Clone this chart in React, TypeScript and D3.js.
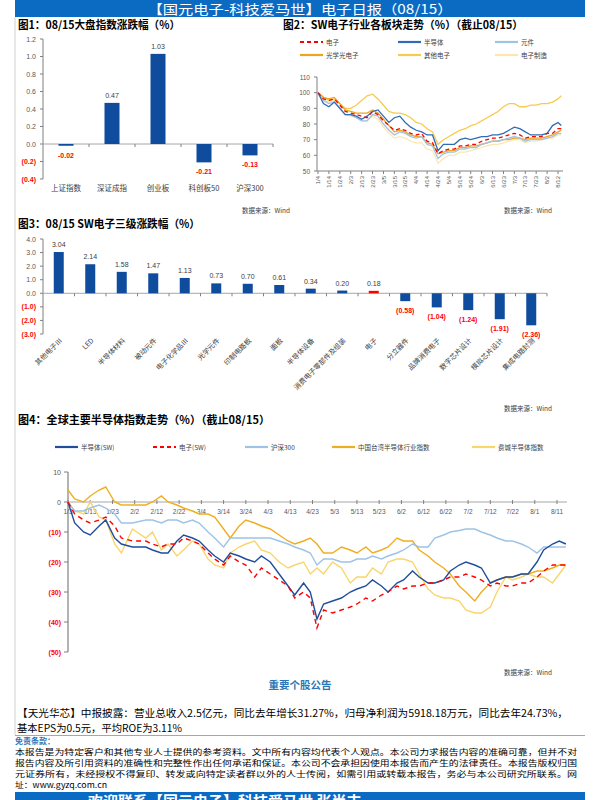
import React from "react";
import * as d3 from "d3";

const SANS = "'Liberation Sans', Arial, 'Noto Sans CJK SC', sans-serif";
const CJK = "'Noto Sans CJK SC', 'Liberation Sans', sans-serif";
const BAR_BLUE = "#0F4C9E";
const RED = "#FF0000";
const TXT = "#595959";
const AXIS = "#808080";

// ---------- Chart 1 ----------
const c1Categories = ["上证指数", "深证成指", "创业板", "科创板50", "沪深300"];
const c1Values = [-0.02, 0.47, 1.03, -0.21, -0.13];
const c1Ticks = [-0.4, -0.2, 0, 0.2, 0.4, 0.6, 0.8, 1.0, 1.2];

// ---------- Chart 2 ----------
const c2TickLabels = ["1/4", "1/14", "1/24", "2/3", "2/13", "2/23", "3/5", "3/15", "3/25", "4/4", "4/14", "4/24", "5/4", "5/14", "5/24", "6/3", "6/13", "6/23", "7/3", "7/13", "7/23", "8/2", "8/12"];
const c2YTicks = [50, 60, 70, 80, 90, 100, 110];
const c2Dates = ["1/4", "1/9", "1/14", "1/19", "1/24", "1/29", "2/3", "2/8", "2/13", "2/18", "2/23", "2/28", "3/5", "3/10", "3/15", "3/20", "3/25", "3/30", "4/4", "4/9", "4/14", "4/19", "4/24", "4/29", "5/4", "5/9", "5/14", "5/19", "5/24", "5/29", "6/3", "6/8", "6/13", "6/18", "6/23", "6/28", "7/3", "7/8", "7/13", "7/18", "7/23", "7/28", "8/2", "8/7", "8/12", "8/15"];
const c2Electronics = [100, 96, 95, 96, 92, 88, 87, 86, 85, 84, 88, 86, 82, 79, 76, 77, 76, 74, 73, 74, 69, 68, 61, 63, 64, 64, 66, 66, 67, 67, 69, 70, 71, 71, 72, 73, 74, 73, 71, 72, 72, 72, 74, 74, 77, 77];
const c2Semi = [100, 93, 91, 94, 90, 86, 86, 85, 83, 85, 88, 89, 85, 81, 84, 85, 81, 78, 76, 75, 73, 73, 63, 67, 67, 67, 70, 71, 70, 71, 72, 72, 73, 73, 74, 76, 78, 77, 75, 73, 73, 73, 74, 79, 81, 79];
const c2Component = [100, 95, 93, 94, 90, 86, 86, 84, 82, 82, 86, 85, 80, 76, 73, 75, 74, 72, 71, 72, 67, 66, 58, 61, 62, 62, 64, 64, 65, 65, 67, 68, 69, 69, 70, 71, 72, 71, 69, 70, 70, 70, 71, 72, 74, 74];
const c2Optical = [100, 97, 96, 97, 93, 89, 88, 87, 87, 87, 89, 87, 83, 79, 75, 76, 75, 73, 72, 72, 68, 67, 61, 62, 63, 63, 65, 65, 66, 66, 67, 68, 69, 69, 70, 70, 71, 71, 70, 71, 71, 71, 72, 73, 75, 76];
const c2Other = [100, 97, 95, 96, 93, 90, 90, 92, 95, 98, 99, 96, 92, 88, 87, 87, 86, 84, 81, 80, 77, 75, 67, 70, 72, 74, 76, 77, 79, 80, 82, 84, 86, 88, 91, 93, 93, 91, 91, 92, 92, 93, 93, 94, 96, 98];
const c2Manufacture = [100, 95, 94, 95, 90, 86, 85, 84, 82, 82, 85, 83, 78, 74, 71, 72, 71, 69, 68, 68, 64, 63, 55, 58, 60, 60, 62, 62, 63, 64, 65, 66, 67, 67, 68, 69, 70, 70, 68, 69, 69, 70, 71, 71, 73, 73];

// ---------- Chart 3 ----------
const c3Categories = ["其他电子Ⅲ", "LED", "半导体材料", "被动元件", "电子化学品Ⅲ", "光学元件", "印制电路板", "面板", "半导体设备", "消费电子零部件及组装", "电子", "分立器件", "品牌消费电子", "数字芯片设计", "模拟芯片设计", "集成电路封测"];
const c3Values = [3.04, 2.14, 1.58, 1.47, 1.13, 0.73, 0.70, 0.61, 0.34, 0.20, 0.18, -0.58, -1.04, -1.24, -1.91, -2.36];
const c3Ticks = [-3, -2, -1, 0, 1, 2, 3, 4];
const c3Highlight = "电子";

// ---------- Chart 4 ----------
const c4TickLabels = ["1/3", "1/13", "1/23", "2/2", "2/12", "2/22", "3/4", "3/14", "3/24", "4/3", "4/13", "4/23", "5/3", "5/13", "5/23", "6/2", "6/12", "6/22", "7/2", "7/12", "7/22", "8/1", "8/11"];
const c4YTicks = [-50, -40, -30, -20, -10, 0, 10];
const c4Dates = ["1/3", "1/6", "1/10", "1/13", "1/17", "1/20", "1/24", "1/27", "2/1", "2/7", "2/10", "2/14", "2/17", "2/21", "2/24", "2/28", "3/3", "3/7", "3/10", "3/14", "3/17", "3/21", "3/24", "3/28", "3/31", "4/4", "4/8", "4/12", "4/15", "4/19", "4/22", "4/25", "4/28", "5/2", "5/6", "5/10", "5/13", "5/17", "5/20", "5/24", "5/27", "5/31", "6/3", "6/7", "6/10", "6/14", "6/17", "6/21", "6/24", "6/28", "7/1", "7/5", "7/8", "7/12", "7/15", "7/19", "7/22", "7/26", "7/29", "8/2", "8/5", "8/9", "8/12", "8/15"];
const c4Semi = [0, -7, -10, -11, -8, -6, -12, -14, -15, -15, -16, -17, -17, -13, -11, -12, -13, -16, -18, -20, -17, -18, -19, -20, -18, -20, -24, -28, -31, -27, -30, -39, -34, -33, -32, -30, -29, -28, -26, -28, -30, -27, -26, -23, -25, -27, -27, -26, -23, -21, -20, -21, -22, -27, -26, -25, -25, -24, -24, -20, -16, -14, -13, -14];
const c4Electronics = [0, -4, -6, -7, -6, -5, -8, -12, -13, -13, -14, -15, -14, -14, -12, -13, -14, -17, -19, -21, -18, -20, -21, -25, -22, -24, -26, -28, -32, -30, -32, -42, -36, -37, -36, -35, -34, -32, -33, -31, -30, -28, -29, -28, -28, -27, -27, -26, -25, -25, -24, -25, -26, -28, -27, -28, -28, -27, -27, -25, -23, -21, -21, -21];
const c4HS300 = [0, -3, -3, -2, -1, -2, -4, -7, -7, -6, -6, -7, -6, -6, -7, -6, -7, -10, -12, -15, -12, -12, -12, -12, -12, -12, -13, -14, -15, -16, -17, -21, -19, -19, -20, -20, -19, -19, -18, -19, -18, -17, -16, -14, -15, -15, -12, -11, -10, -9.5, -9, -9, -10, -11, -12, -13, -13, -14, -15, -17, -15, -15, -15, -15];
const c4Taiwan = [4, 1, 0, 2, 4, 5, 0, -1, -1, -1, 0, 2, 0, -1, -2, -3, -4, -4, -5, -9, -12, -8, -6, -7, -8, -9, -11, -13, -14, -13, -12, -14, -17, -17, -15, -16, -17, -15, -17, -16, -15, -12, -13, -13, -16, -18, -20, -22, -24, -28, -30, -33, -30, -27, -26, -25, -25, -24, -24, -23, -23, -22, -21, -21];
const c4Sox = [0, -3, -4, 0, -5, -6, -14, -17, -9, -12, -10, -16, -14, -18, -16, -13, -14, -19, -21, -22, -17, -15, -14, -13, -16, -17, -20, -22, -21, -20, -24, -22, -24, -20, -22, -27, -25, -25, -22, -24, -20, -19, -19, -20, -24, -29, -31, -32, -32, -33, -36, -37, -37, -35, -30, -25, -26, -25, -24, -25, -25, -27, -24, -21];

const pd = (s: string) => {
  const [m, d] = s.split("/").map(Number);
  return new Date(2022, m - 1, d);
};

function Chart1() {
  const x = d3.scaleBand().domain(c1Categories).range([43, 273]);
  const y = d3.scaleLinear().domain([-0.4, 1.2]).range([179, 39]);
  const bw = 15;
  return (
    <g>
      <text x={18} y={29} fontSize={11} fontWeight="bold" fontFamily={CJK} textLength={162} lengthAdjust="spacingAndGlyphs">图1：08/15大盘指数涨跌幅（%）</text>
      <line x1={43} x2={43} y1={y(1.2)} y2={y(-0.4)} stroke={AXIS} />
      {c1Ticks.map((t) => (
        <g key={t}>
          <line x1={40} x2={43} y1={y(t)} y2={y(t)} stroke={AXIS} />
          <text x={36} y={y(t) + 2.5} fontSize={7} textAnchor="end" fontFamily={SANS} fill={t < 0 ? RED : TXT} fontWeight={t < 0 ? "bold" : "normal"}>
            {t < 0 ? `(${(-t).toFixed(1)})` : t.toFixed(1)}
          </text>
        </g>
      ))}
      <line x1={43} x2={273} y1={y(0)} y2={y(0)} stroke="#A6A6A6" />
      {c1Categories.map((c, i) => (
        <line key={"tk" + i} x1={x(c)! + x.bandwidth()} x2={x(c)! + x.bandwidth()} y1={y(0)} y2={y(0) + 3} stroke={AXIS} />
      ))}
      {c1Categories.map((c, i) => {
        const v = c1Values[i];
        const cx = x(c)! + x.bandwidth() / 2;
        return (
          <g key={c}>
            <rect x={cx - bw / 2} width={bw} y={y(Math.max(v, 0))} height={Math.abs(y(v) - y(0))} fill={BAR_BLUE} />
            <text x={cx} y={v >= 0 ? y(v) - 5 : y(v) + 12} fontSize={7} textAnchor="middle" fontFamily={SANS} fill={v >= 0 ? "#404040" : RED} fontWeight={v < 0 ? "bold" : "normal"}>
              {v.toFixed(2)}
            </text>
            <text x={cx} y={191} fontSize={7.5} textAnchor="middle" fontFamily={CJK} fill="#404040">{c}</text>
          </g>
        );
      })}
      <text x={290} y={213} fontSize={6.5} textAnchor="end" fontFamily={CJK} fill="#404040">数据来源：Wind</text>
    </g>
  );
}

function LegendItem({ x, y, color, dashed, label, w = 23 }: any) {
  return (
    <g>
      <line x1={x} x2={x + w} y1={y} y2={y} stroke={color} strokeWidth={2.2} strokeDasharray={dashed ? "4,3" : undefined} />
      <text x={x + w + 3} y={y + 2.5} fontSize={6.5} fontFamily={CJK} fill="#404040">{label}</text>
    </g>
  );
}

function Chart2() {
  const x = d3.scaleTime().domain([pd("1/4"), pd("8/12")]).range([318, 558]);
  const y = d3.scaleLinear().domain([50, 110]).range([171, 77]);
  const line = (vals: number[]) =>
    d3.line<number>().x((_, i) => x(pd(c2Dates[i]))).y((v) => y(v))(vals) || "";
  const series = [
    { v: c2Manufacture, c: "#FCE6B0", w: 1.2 },
    { v: c2Other, c: "#F6CB4E", w: 1.3 },
    { v: c2Optical, c: "#EBA51F", w: 1.3 },
    { v: c2Component, c: "#9DC3E6", w: 1.3 },
    { v: c2Semi, c: "#2E6DB4", w: 1.3 },
  ];
  return (
    <g>
      <text x={283} y={29} fontSize={11} fontWeight="bold" fontFamily={CJK} textLength={240} lengthAdjust="spacingAndGlyphs">图2：SW电子行业各板块走势（%）（截止08/15）</text>
      <LegendItem x={300} y={42} color={RED} dashed label="电子" />
      <LegendItem x={398} y={42} color="#2E6DB4" label="半导体" />
      <LegendItem x={495} y={42} color="#9DC3E6" label="元件" />
      <LegendItem x={300} y={55} color="#EBA51F" label="光学光电子" />
      <LegendItem x={398} y={55} color="#F6CB4E" label="其他电子" />
      <LegendItem x={495} y={55} color="#FCE6B0" label="电子制造" />
      <line x1={317} x2={317} y1={y(110)} y2={y(50)} stroke={AXIS} />
      {c2YTicks.map((t) => (
        <g key={t}>
          <line x1={314} x2={317} y1={y(t)} y2={y(t)} stroke={AXIS} />
          <text x={310} y={y(t) + 2.5} fontSize={6.5} textAnchor="end" fontFamily={SANS} fill={TXT}>{t}</text>
        </g>
      ))}
      <line x1={317} x2={563} y1={y(50)} y2={y(50)} stroke={AXIS} />
      {c2TickLabels.map((t) => {
        const xx = x(pd(t));
        return (
          <g key={t}>
            <line x1={xx} x2={xx} y1={y(50)} y2={y(50) + 3} stroke={AXIS} />
            <text transform={`translate(${xx + 2.2},176) rotate(-90)`} fontSize={6} textAnchor="end" fontFamily={SANS} fill={TXT}>{t}</text>
          </g>
        );
      })}
      {series.map((s, i) => (
        <path key={i} d={line(s.v)} fill="none" stroke={s.c} strokeWidth={s.w} />
      ))}
      <path d={line(c2Electronics)} fill="none" stroke={RED} strokeWidth={1.3} strokeDasharray="4,3" />
      <text x={552} y={213} fontSize={6.5} textAnchor="end" fontFamily={CJK} fill="#404040">数据来源：Wind</text>
    </g>
  );
}

function Chart3() {
  const x = d3.scaleBand().domain(c3Categories).range([43, 547]);
  const y = d3.scaleLinear().domain([-3, 4]).range([334, 239]);
  const bw = 10;
  return (
    <g>
      <text x={18} y={228} fontSize={11} fontWeight="bold" fontFamily={CJK} textLength={182} lengthAdjust="spacingAndGlyphs">图3：08/15 SW电子三级涨跌幅（%）</text>
      <line x1={43} x2={43} y1={y(4)} y2={y(-3)} stroke={AXIS} />
      {c3Ticks.map((t) => (
        <g key={t}>
          <line x1={40} x2={43} y1={y(t)} y2={y(t)} stroke={AXIS} />
          <text x={36} y={y(t) + 2.5} fontSize={7} textAnchor="end" fontFamily={SANS} fill={t < 0 ? RED : TXT} fontWeight={t < 0 ? "bold" : "normal"}>
            {t < 0 ? `(${(-t).toFixed(1)})` : t.toFixed(1)}
          </text>
        </g>
      ))}
      <line x1={43} x2={547} y1={y(0)} y2={y(0)} stroke="#A6A6A6" />
      {c3Categories.map((c, i) => (
        <line key={"tk" + i} x1={x(c)! + x.bandwidth()} x2={x(c)! + x.bandwidth()} y1={y(0)} y2={y(0) + 3} stroke={AXIS} />
      ))}
      {c3Categories.map((c, i) => {
        const v = c3Values[i];
        const cx = x(c)! + x.bandwidth() / 2;
        return (
          <g key={c}>
            <rect x={cx - bw / 2} width={bw} y={y(Math.max(v, 0))} height={Math.abs(y(v) - y(0))} fill={c === c3Highlight ? RED : BAR_BLUE} />
            <text x={cx} y={v >= 0 ? y(v) - 5 : y(v) + 12} fontSize={7} textAnchor="middle" fontFamily={SANS} fill={v >= 0 ? "#404040" : RED} fontWeight={v < 0 ? "bold" : "normal"}>
              {v >= 0 ? v.toFixed(2) : `(${(-v).toFixed(2)})`}
            </text>
            <text transform={`translate(${cx + 4},341) rotate(-45)`} fontSize={7} textAnchor="end" fontFamily={CJK} fill="#404040">{c}</text>
          </g>
        );
      })}
      <text x={552} y={411} fontSize={6.5} textAnchor="end" fontFamily={CJK} fill="#404040">数据来源：Wind</text>
    </g>
  );
}

function Chart4() {
  const x = d3.scaleTime().domain([pd("1/3"), pd("8/11")]).range([68, 557]);
  const y = d3.scaleLinear().domain([-50, 10]).range([652, 472]);
  const line = (vals: number[]) =>
    d3.line<number>().x((_, i) => x(pd(c4Dates[i]))).y((v) => y(v))(vals) || "";
  const series = [
    { v: c4Sox, c: "#F9D56B" },
    { v: c4Taiwan, c: "#EFAE22" },
    { v: c4HS300, c: "#9DC3E6" },
    { v: c4Semi, c: "#1F4E9C" },
  ];
  return (
    <g>
      <text x={18} y={424} fontSize={11} fontWeight="bold" fontFamily={CJK} textLength={252} lengthAdjust="spacingAndGlyphs">图4：全球主要半导体指数走势（%）（截止08/15）</text>
      <LegendItem x={55} y={447} color="#1F4E9C" label="半导体(SW)" />
      <LegendItem x={153} y={447} color={RED} dashed label="电子(SW)" />
      <LegendItem x={245} y={447} color="#9DC3E6" label="沪深300" />
      <LegendItem x={332} y={447} color="#EFAE22" label="中国台湾半导体行业指数" />
      <LegendItem x={472} y={447} color="#F9D56B" label="费城半导体指数" />
      <line x1={68} x2={68} y1={y(10)} y2={y(-50)} stroke={AXIS} strokeWidth={1.2} />
      {c4YTicks.map((t) => (
        <g key={t}>
          <line x1={64} x2={68} y1={y(t)} y2={y(t)} stroke={AXIS} />
          <text x={61} y={y(t) + 2.5} fontSize={7} textAnchor="end" fontFamily={SANS} fill={t < 0 ? RED : TXT} fontWeight={t < 0 ? "bold" : "normal"}>
            {t < 0 ? `(${-t})` : t}
          </text>
        </g>
      ))}
      <line x1={68} x2={567} y1={y(0)} y2={y(0)} stroke="#A6A6A6" />
      {c4TickLabels.map((t) => {
        const xx = x(pd(t));
        return (
          <g key={t}>
            <line x1={xx} x2={xx} y1={y(0) - 2} y2={y(0) + 2} stroke={AXIS} />
            <text x={xx} y={514} fontSize={6.5} textAnchor="middle" fontFamily={SANS} fill={TXT}>{t}</text>
          </g>
        );
      })}
      {series.map((s, i) => (
        <path key={i} d={line(s.v)} fill="none" stroke={s.c} strokeWidth={1.4} />
      ))}
      <path d={line(c4Electronics)} fill="none" stroke={RED} strokeWidth={1.4} strokeDasharray="5,4" />
      <text x={552} y={675} fontSize={6.5} textAnchor="end" fontFamily={CJK} fill="#404040">数据来源：Wind</text>
    </g>
  );
}

const newsLine1 = "【天光华芯】中报披露：营业总收入2.5亿元，同比去年增长31.27%，归母净利润为5918.18万元，同比去年24.73%，";
const newsLine2 = "基本EPS为0.5元，平均ROE为3.11%";
const disclaimer = [
  "本报告是为特定客户和其他专业人士提供的参考资料。文中所有内容均代表个人观点。本公司力求报告内容的准确可靠，但并不对",
  "报告内容及所引用资料的准确性和完整性作出任何承诺和保证。本公司不会承担因使用本报告而产生的法律责任。本报告版权归国",
  "元证券所有，未经授权不得复印、转发或向特定读者群以外的人士传阅，如需引用或转载本报告，务必与本公司研究所联系。网",
];

export default function App() {
  return (
    <svg width={600} height={800} style={{ position: "absolute", left: 0, top: 0, background: "#fff" }}>
      <rect x={0} y={0} width={600} height={800} fill="#fff" />
      <rect x={15} y={0} width={570} height={17} fill="#0B6BC2" />
      <text x={300} y={14} fontSize={13} fill="#fff" textAnchor="middle" fontFamily={CJK} textLength={305} lengthAdjust="spacingAndGlyphs">【国元电子-科技爱马世】电子日报（08/15）</text>
      <line x1={15} x2={15} y1={17} y2={735} stroke="#D0D0D0" />
      <Chart1 />
      <Chart2 />
      <Chart3 />
      <Chart4 />
      <text x={300} y={689} fontSize={10.5} fontWeight="bold" fill="#2E75B6" textAnchor="middle" fontFamily={CJK}>重要个股公告</text>
      <text x={17} y={717} fontSize={10.5} fontFamily={CJK} fill="#000" textLength={551} lengthAdjust="spacingAndGlyphs">{newsLine1}</text>
      <text x={17} y={732} fontSize={10.5} fontFamily={CJK} fill="#000" textLength={165} lengthAdjust="spacingAndGlyphs">{newsLine2}</text>
      <line x1={15} x2={585} y1={735.5} y2={735.5} stroke="#A6A6A6" />
      <text x={15} y={744} fontSize={8} fontWeight="bold" fill="#2E75B6" fontFamily={CJK}>免责条款：</text>
      {disclaimer.map((t, i) => (
        <text key={i} x={15} y={755 + i * 11} fontSize={8} fontFamily={CJK} fill="#000" textLength={562} lengthAdjust="spacingAndGlyphs">{t}</text>
      ))}
      <text x={15} y={788} fontSize={8} fontFamily={CJK} fill="#000" textLength={92} lengthAdjust="spacingAndGlyphs">址：www.gyzq.com.cn</text>
      <rect x={15} y={792} width={570} height={8} fill="#0B6BC2" />
      <text x={88} y={807} fontSize={15} fontWeight="bold" fill="#fff" fontFamily={CJK}>欢迎联系【国元电子】科技爱马世 张尚丰</text>
    </svg>
  );
}
